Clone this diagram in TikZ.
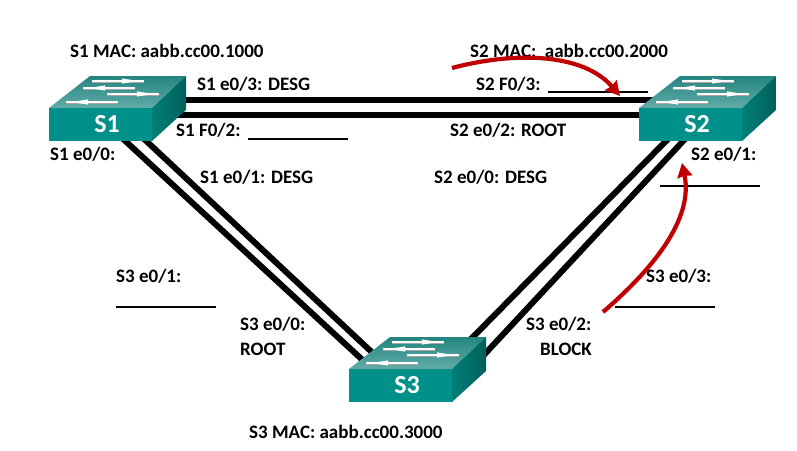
\documentclass[tikz,border=0pt]{standalone}
\usepackage{fontspec}
\setmainfont{Carlito}
\usetikzlibrary{arrows.meta}
\usetikzlibrary{backgrounds}
\definecolor{swfront}{HTML}{00908A}
\definecolor{swtopback}{HTML}{23857F}
\definecolor{swtopfront}{HTML}{62ABA8}
\definecolor{swsidea}{HTML}{008078}
\definecolor{swsideb}{HTML}{005F5A}
\definecolor{redarrow}{HTML}{C00000}
\tikzset{
    portlabel/.style={anchor=base west,inner sep=0pt,font=\bfseries\fontsize{19}{23}\selectfont},
    swlink/.style={line width=6pt},
    blankline/.style={line width=1.5pt},
    redcurve/.style={redarrow,line width=4.2pt,-{Stealth[inset=1pt,length=14pt,width=15pt]}},
    swarrow/.pic={
        \draw[gray!70,line width=1.6pt] (0,1) -- (52,1);
        \draw[white,line width=1.4pt] (0,0) -- (52,0);
        \fill[white] (30,-2.6) -- (46,0) -- (30,2.6) -- cycle;
    },
    switchbox/.pic={
        \shade[bottom color=swtopfront,top color=swtopback,shading angle=0] (0,0) -- (41,-32) -- (137,-32) -- (103,0) -- cycle;
        \shade[left color=swsidea,right color=swsideb] (103,0) -- (137,-32) -- (137,2) -- (103,33) -- cycle;
        \fill[swfront] (0,0) rectangle (103,33);
        \node (-name) at (58,16) [text=white,font=\bfseries\fontsize{26}{30}\selectfont] {#1};
        \pic at (43,-27) {swarrow};
        \pic[xscale=-1] at (86,-20) {swarrow};
        \pic at (58,-14) {swarrow};
        \pic[xscale=-1] at (69,-6) {swarrow};
        % link ends
        \coordinate (-right) at (115,-8.5);
        \coordinate (-rightlow) at (115,7);
        \coordinate (-left) at (20,-8.5);
        \coordinate (-leftlow) at (20,7);
        \coordinate (-dla) at (72,29);
        \coordinate (-dlb) at (93,29);
        \coordinate (-dra) at (30,30);
        \coordinate (-drb) at (47,30);
        \coordinate (-ula) at (19,-4);
        \coordinate (-ulb) at (28,-12);
        \coordinate (-ura) at (120,-28);
        \coordinate (-urb) at (133,-12);
    },
}
\begin{document}
\begin{tikzpicture}[x=1pt,y=-1pt]
    \useasboundingbox (0,0) rectangle (797,450);

    \pic (S1) at (49,108) {switchbox=S1};
    \pic (S2) at (639,108) {switchbox=S2};
    \pic (S3) at (349,369) {switchbox=S3};

    \begin{scope}[on background layer]
        \draw[swlink] (S1-right) -- (S2-left);
        \draw[swlink] (S1-rightlow) -- (S2-leftlow);
        \draw[swlink] (S1-dla) -- (S3-ula);
        \draw[swlink] (S1-dlb) -- (S3-ulb);
        \draw[swlink] (S2-dra) -- (S3-ura);
        \draw[swlink] (S2-drb) -- (S3-urb);
    \end{scope}

    \node (macS1) at (70,57) [portlabel] {S1 MAC: aabb.cc00.1000};
    \node (macS2) at (470,57) [portlabel] {S2 MAC:\ \ aabb.cc00.2000};
    \node (macS3) at (249,438) [portlabel] {S3 MAC: aabb.cc00.3000};

    \node (s1e03) at (197,90) [portlabel] {S1 e0/3: DESG};
    \node (s2f03) at (476,90) [portlabel] {S2 F0/3:};
    \node (s1f02) at (176,136) [portlabel] {S1 F0/2:};
    \node (s2e02) at (450,136) [portlabel] {S2 e0/2: ROOT};
    \node (s1e00) at (50,160) [portlabel] {S1 e0/0:};
    \node (s2e01) at (691,160) [portlabel] {S2 e0/1:};
    \node (s1e01) at (200,183) [portlabel] {S1 e0/1: DESG};
    \node (s2e00) at (434,183) [portlabel] {S2 e0/0: DESG};
    \node (s3e01) at (116,282) [portlabel] {S3 e0/1:};
    \node (s3e03) at (646,282) [portlabel] {S3 e0/3:};
    \node (s3e00) at (240,330) [portlabel] {S3 e0/0:};
    \node (s3root) at (240,355) [portlabel] {ROOT};
    \node (s3e02) at (526,330) [portlabel] {S3 e0/2:};
    \node (s3block) at (540,355) [portlabel] {BLOCK};

    \foreach \x/\y in {548/92,248/139,660/186,116/307,615/307} {
        \draw[blankline] (\x,\y) -- ++(100,0);
    }

    \coordinate (topfrom) at (452,68);
    \coordinate (topto) at (620,96);
    \coordinate (rightfrom) at (603,312);
    \coordinate (rightto) at (682,163);
    \draw[redcurve] (topfrom) .. controls (520,50) and (585,55) .. (topto);
    \draw[redcurve] (rightfrom) .. controls (640,280) and (695,225) .. (rightto);
\end{tikzpicture}
\end{document}
